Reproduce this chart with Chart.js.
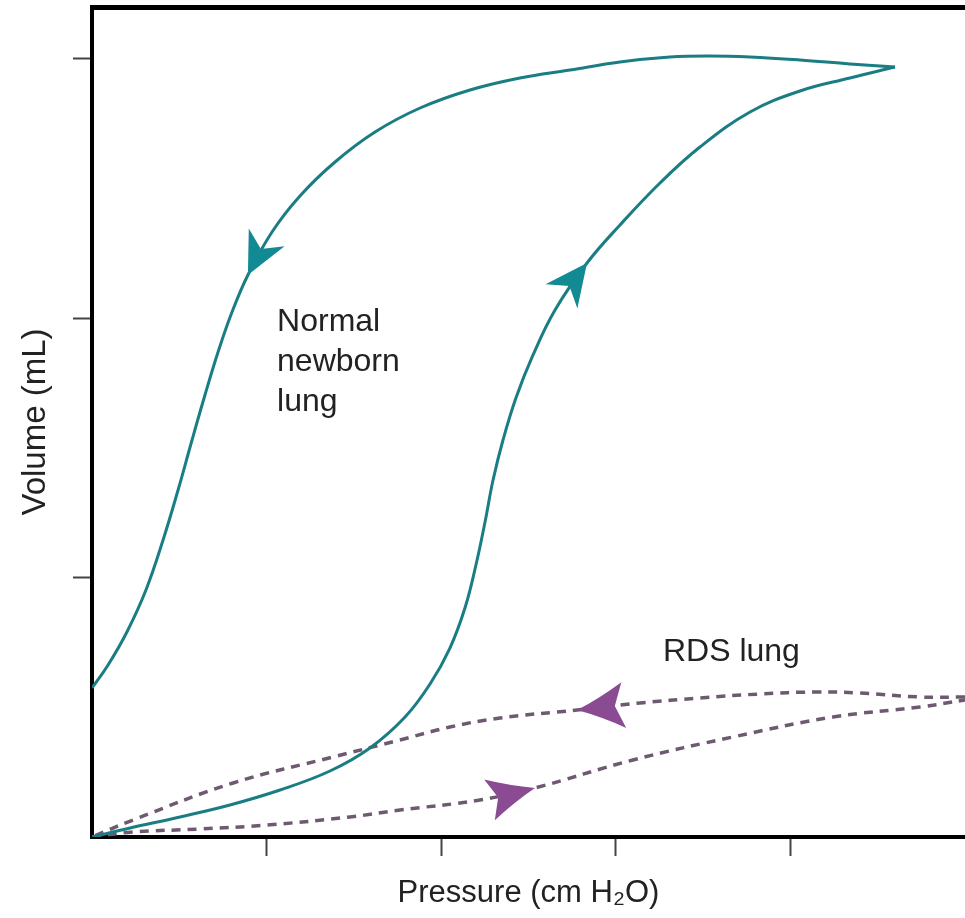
<!DOCTYPE html>
<html><head><meta charset="utf-8">
<script src="https://cdn.jsdelivr.net/npm/chart.js@4.4.0/dist/chart.umd.min.js"></script>
<style>html,body{margin:0;padding:0;background:#fff;overflow:hidden}</style>
</head><body>
<canvas id="c" width="965" height="918"></canvas>
<script>
// ---- data (pressure in cm H2O, volume in mL) ----
const normalInflationPressure = [0, 2.18, 5.04, 7.90, 10.77, 13.63, 15.92, 17.93, 19.36, 20.50, 21.36, 21.99, 22.51, 22.97, 23.54, 24.28, 25.26, 26.52, 28.35, 30.24, 32.53, 34.82, 37.69, 40.55, 43.41, 45.99];
const normalInflationVolume   = [0, 1.73, 3.86, 6.17, 9.06, 12.72, 17.16, 23.13, 29.49, 36.43, 44.14, 52.43, 60.72, 68.82, 76.53, 84.63, 92.92, 101.59, 110.65, 117.98, 126.07, 133.01, 139.76, 143.81, 146.31, 148.43];

const normalDeflationPressure = [45.99, 43.41, 40.55, 37.69, 35.40, 33.10, 30.24, 27.38, 24.51, 21.65, 18.79, 16.21, 13.92, 11.91, 10.31, 8.93, 8.02, 7.22, 6.47, 5.73, 4.93, 4.07, 3.09, 2.00, 0.92, 0];
const normalDeflationVolume   = [148.43, 149.01, 149.78, 150.36, 150.55, 150.36, 149.40, 147.86, 146.31, 144.00, 140.53, 135.90, 130.12, 123.57, 116.63, 108.34, 101.20, 93.49, 85.20, 76.53, 66.89, 57.25, 47.61, 39.52, 33.16, 28.72];

const rdsInflationPressure = [0, 2.35, 6.19, 10.02, 14.78, 17.64, 22.22, 25.37, 30.98, 36.71, 42.44, 47.42, 50];
const rdsInflationVolume   = [0, 0.96, 1.54, 2.31, 3.86, 5.20, 7.13, 9.45, 14.84, 19.28, 23.13, 25.06, 26.41];

const rdsDeflationPressure = [50, 47.42, 43.99, 41.41, 38.26, 34.82, 31.39, 27.78, 23.37, 20.50, 17.64, 13.80, 8.08, 2.35, 0];
const rdsDeflationVolume   = [26.99, 26.99, 27.76, 27.95, 27.57, 26.80, 25.83, 24.48, 22.94, 21.20, 18.70, 15.42, 10.41, 3.28, 0];

// arrowheads sit on these pressure values of each limb
const arrowPressures = [8.93, 28.35, 27.78, 25.37]; // normal defl, normal infl, RDS defl, RDS infl

const xTickValues = [10, 20, 30, 40];
const yTickValues = [50, 100, 150];

const labelNormal = ["Normal", "newborn", "lung"];
const labelRDS = ["RDS lung"];
const labelNormalAt = {x: 10.6, y: 97.5};
const labelRDSAt = {x: 32.7, y: 33.9};

// ---- styles ----
const TEAL = '#1a7d84';
const TEAL_ARROW = '#128a93';
const PURPLE_LINE = '#6e5a70';
const PURPLE_ARROW = '#8b4b93';
const FONT = '"Liberation Sans", Arial, Helvetica, sans-serif';

const toPts = (xs, ys) => xs.map((x, i) => ({x: x, y: ys[i]}));

const arrowPlugin = {
  id: 'arrows',
  afterDatasetsDraw(chart) {
    const ctx = chart.ctx;
    const specs = [
      {ds: 0, p: arrowPressures[0], color: TEAL_ARROW, L: 42, W: 20, N: 13, c: 0.5},
      {ds: 1, p: arrowPressures[1], color: TEAL_ARROW, L: 42, W: 20, N: 13, c: 0.5},
      {ds: 2, p: arrowPressures[2], color: PURPLE_ARROW, L: 47, W: 23, N: 9, c: 0.4},
      {ds: 3, p: arrowPressures[3], color: PURPLE_ARROW, L: 47, W: 21, N: 9, c: 0.4}
    ];
    specs.forEach(s => {
      const data = chart.data.datasets[s.ds].data;
      const idx = data.findIndex(d => d.x === s.p);
      const meta = chart.getDatasetMeta(s.ds);
      const el = meta.data[idx];
      const a = meta.data[Math.max(0, idx - 1)];
      const b = meta.data[Math.min(meta.data.length - 1, idx + 1)];
      const ang = Math.atan2(b.y - a.y, b.x - a.x);
      ctx.save();
      ctx.translate(el.x, el.y);
      ctx.rotate(ang);
      ctx.fillStyle = s.color;
      ctx.beginPath();
      ctx.moveTo(0, 0);
      ctx.quadraticCurveTo(-s.L * 0.5, -s.W * s.c, -s.L, -s.W);
      ctx.lineTo(-s.L + s.N, 0);
      ctx.lineTo(-s.L, s.W);
      ctx.quadraticCurveTo(-s.L * 0.5, s.W * s.c, 0, 0);
      ctx.closePath();
      ctx.fill();
      ctx.restore();
    });
  }
};

const labelPlugin = {
  id: 'labels',
  afterDraw(chart) {
    const ctx = chart.ctx;
    const xs = chart.scales.x, ys = chart.scales.y;
    ctx.save();
    ctx.fillStyle = '#222';
    ctx.font = '32px ' + FONT;
    ctx.textBaseline = 'alphabetic';
    ctx.textAlign = 'left';
    let px = xs.getPixelForValue(labelNormalAt.x), py = ys.getPixelForValue(labelNormalAt.y);
    labelNormal.forEach((t, i) => ctx.fillText(t, px, py + i * 40));
    px = xs.getPixelForValue(labelRDSAt.x); py = ys.getPixelForValue(labelRDSAt.y);
    labelRDS.forEach((t, i) => ctx.fillText(t, px, py + i * 40));
    ctx.restore();
  }
};

new Chart(document.getElementById('c'), {
  type: 'scatter',
  data: {
    datasets: [
      {label: 'Normal newborn lung (deflation)', data: toPts(normalDeflationPressure, normalDeflationVolume),
       showLine: true, borderColor: TEAL, borderWidth: 3, pointRadius: 0, tension: 0.4, fill: false},
      {label: 'Normal newborn lung (inflation)', data: toPts(normalInflationPressure, normalInflationVolume),
       showLine: true, borderColor: TEAL, borderWidth: 3, pointRadius: 0, tension: 0.4, fill: false},
      {label: 'RDS lung (deflation)', data: toPts(rdsDeflationPressure, rdsDeflationVolume),
       showLine: true, borderColor: PURPLE_LINE, borderWidth: 3.5, borderDash: [9, 7], pointRadius: 0, tension: 0.4, fill: false},
      {label: 'RDS lung (inflation)', data: toPts(rdsInflationPressure, rdsInflationVolume),
       showLine: true, borderColor: PURPLE_LINE, borderWidth: 3.5, borderDash: [9, 7], pointRadius: 0, tension: 0.4, fill: false}
    ]
  },
  options: {
    responsive: false,
    animation: false,
    devicePixelRatio: 1,
    layout: {padding: 0},
    plugins: {legend: {display: false}, tooltip: {enabled: false}},
    scales: {
      x: {
        type: 'linear', position: 'bottom', min: 0, max: 50,
        afterBuildTicks: s => { s.ticks = xTickValues.map(v => ({value: v})); },
        afterFit: s => { s.height = 81; },
        ticks: {display: false},
        grid: {display: true, drawOnChartArea: false, drawTicks: true, tickLength: 19, tickWidth: 2, tickColor: '#444'},
        border: {display: true, color: '#000', width: 4},
        title: {display: true, text: 'Pressure (cm H\u2082O)', color: '#222', font: {family: FONT, size: 31}, padding: {top: 0, bottom: 6}}
      },
      xTop: {
        type: 'linear', position: 'top', min: 0, max: 50,
        afterFit: s => { s.height = 7; },
        ticks: {display: false},
        grid: {display: false, drawTicks: false},
        border: {display: true, color: '#000', width: 5}
      },
      y: {
        type: 'linear', position: 'left', min: 0, max: 160,
        afterBuildTicks: s => { s.ticks = yTickValues.map(v => ({value: v})); },
        afterFit: s => { s.width = 92; },
        ticks: {display: false},
        grid: {display: true, drawOnChartArea: false, drawTicks: true, tickLength: 19, tickWidth: 2, tickColor: '#444'},
        border: {display: true, color: '#000', width: 4},
        title: {display: true, text: 'Volume (mL)', color: '#222', font: {family: FONT, size: 33}, padding: {top: 16, bottom: 0}}
      }
    }
  },
  plugins: [arrowPlugin, labelPlugin]
});
</script>
</body></html>
